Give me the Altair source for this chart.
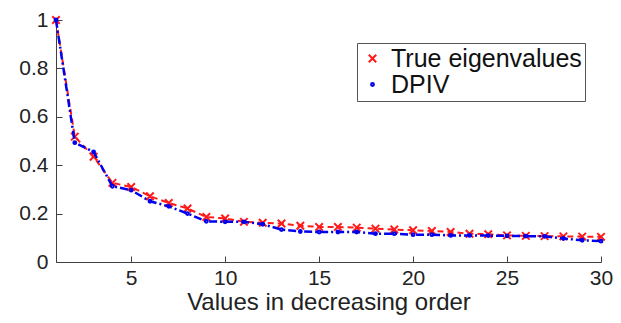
import altair as alt
import pandas as pd

ranks = list(range(1, 31))
true_vals = [1.0, 0.518, 0.435, 0.327, 0.31, 0.272, 0.244, 0.221, 0.186, 0.18,
             0.166, 0.162, 0.159, 0.15, 0.145, 0.145, 0.142, 0.138, 0.134, 0.131,
             0.128, 0.124, 0.117, 0.115, 0.11, 0.108, 0.107, 0.106, 0.105, 0.104]
dpiv_vals = [1.0, 0.493, 0.455, 0.313, 0.297, 0.251, 0.23, 0.2, 0.168, 0.166,
             0.166, 0.156, 0.134, 0.126, 0.124, 0.124, 0.124, 0.117, 0.117, 0.113,
             0.113, 0.11, 0.11, 0.109, 0.108, 0.107, 0.106, 0.097, 0.09, 0.086]
series_names = ["True eigenvalues", "DPIV"]
series_colors = ["#ff1a1a", "#0000ee"]
x_ticks = [5, 10, 15, 20, 25, 30]
y_ticks = [0, 0.2, 0.4, 0.6, 0.8, 1]

df = pd.DataFrame({
    "rank": ranks * 2,
    "value": true_vals + dpiv_vals,
    "series": [series_names[0]] * 30 + [series_names[1]] * 30,
})

W, H = 545, 242
FONT = "Liberation Sans"
AX = "#404040"

xs = alt.Scale(domain=[1, 30], nice=False)
ys = alt.Scale(domain=[0, 1], nice=False)
cs = alt.Scale(domain=series_names, range=series_colors)

base = alt.Chart(df)

x_main = alt.X("rank:Q", scale=xs, title="Values in decreasing order",
               axis=alt.Axis(values=x_ticks, tickSize=0, labelFontSize=21, labelFont=FONT,
                             labelColor="#222", labelPadding=5, titleFontSize=24, titleFont=FONT,
                             titleFontWeight="normal", titleColor="#222", titlePadding=2,
                             domainColor=AX, grid=False, labelFlush=False))
y_main = alt.Y("value:Q", scale=ys, title=None,
               axis=alt.Axis(values=y_ticks, format="~g", tickSize=0, labelFontSize=21,
                             labelFont=FONT, labelColor="#222", labelPadding=8,
                             domainColor=AX, grid=False, labelFlush=False))

x_tick = alt.X("rank:Q", scale=xs,
               axis=alt.Axis(orient="top", offset=-H, values=x_ticks, labels=False, domain=False,
                             tickSize=6, tickColor=AX, title=None, grid=False))
y_tick = alt.Y("value:Q", scale=ys,
               axis=alt.Axis(orient="right", offset=-W, values=y_ticks, labels=False, domain=False,
                             tickSize=6, tickColor=AX, title=None, grid=False))

red_line = base.transform_filter(alt.datum.series == series_names[0]).mark_line(
    strokeWidth=2, strokeDash=[6, 4], color=series_colors[0]
).encode(x=x_tick, y=y_tick)

blue_line = base.transform_filter(alt.datum.series == series_names[1]).mark_line(
    strokeWidth=2.5, strokeDash=[8, 3, 2, 3], color=series_colors[1]
).encode(x=x_main, y=y_main)

points = base.mark_point(filled=False, strokeWidth=2, opacity=1).encode(
    x=alt.X("rank:Q", scale=xs, axis=None),
    y=alt.Y("value:Q", scale=ys, axis=None),
    color=alt.Color("series:N", scale=cs, sort=series_names, title=None),
    shape=alt.Shape("series:N", sort=series_names, title=None,
                    scale=alt.Scale(domain=series_names,
                                    range=["M-1,-1L1,1M-1,1L1,-1", "circle"])),
    size=alt.Size("series:N", sort=series_names, title=None,
                  scale=alt.Scale(domain=series_names, range=[56, 8])),
    order=alt.Order("series:N", sort="descending"),
)

chart = alt.layer(red_line, points, blue_line).resolve_axis(
    x="independent", y="independent"
).properties(
    width=W, height=H,
    autosize=alt.AutoSizeParams(type="none"),
    padding={"left": 48, "top": 12, "right": 12, "bottom": 53},
).configure_view(stroke=None).configure_legend(
    orient="none", legendX=301, legendY=23, strokeColor="#555", fillColor="white",
    padding=3, labelFontSize=25, labelFont=FONT, labelColor="#111", symbolStrokeWidth=2,
    rowPadding=0, labelOffset=6, titleFontSize=0, labelLimit=400,
)

chart.save("out.html", embed_options={"renderer": "svg", "actions": False})
